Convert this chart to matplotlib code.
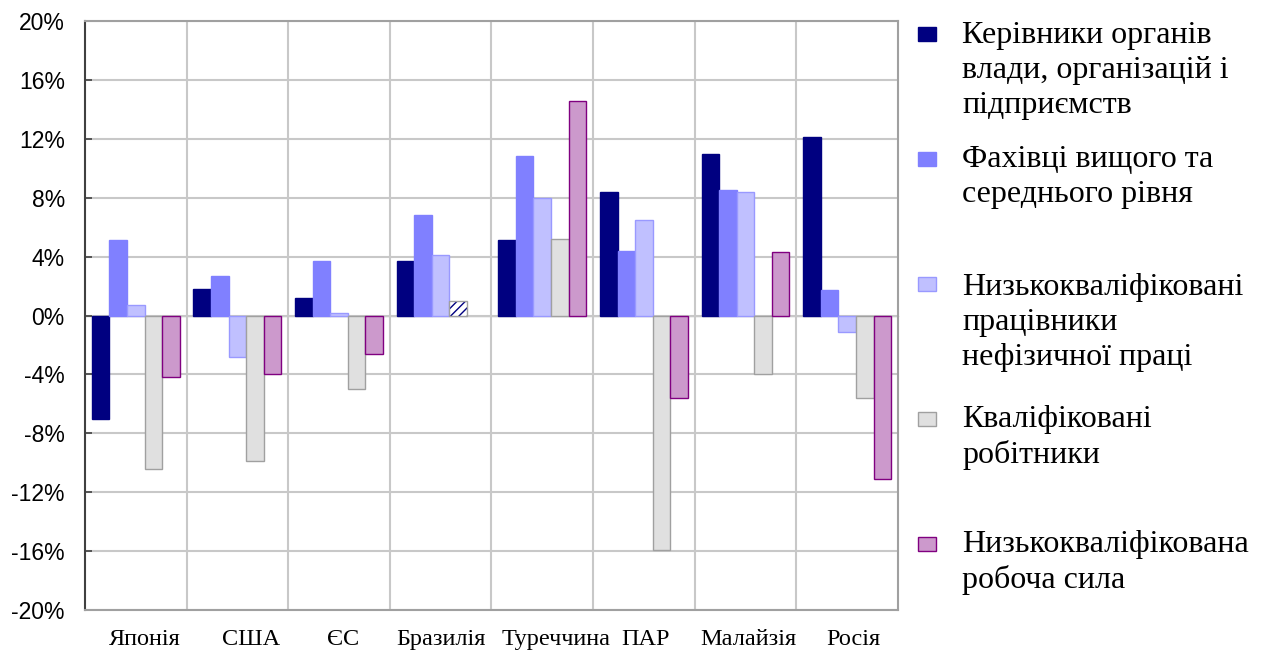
import matplotlib
matplotlib.use("Agg")
import matplotlib.pyplot as plt
import matplotlib.transforms as mtransforms
import numpy as np

countries = ["Японія", "США", "ЄС", "Бразилія", "Туреччина", "ПАР", "Малайзія", "Росія"]

series_names = [
    "Керівники органів\nвлади, організацій і\nпідприємств",
    "Фахівці вищого та\nсереднього рівня",
    "Низькокваліфіковані\nпрацівники\nнефізичної праці",
    "Кваліфіковані\nробітники",
    "Низькокваліфікована\nробоча сила",
]

managers = [-7.0, 1.8, 1.2, 3.7, 5.1, 8.4, 11.0, 12.1]
professionals = [5.1, 2.7, 3.7, 6.8, 10.8, 4.4, 8.5, 1.7]
clerks = [0.7, -2.8, 0.2, 4.1, 8.0, 6.5, 8.4, -1.1]
skilled = [-10.4, -9.9, -5.0, 1.0, 5.2, -15.9, -4.0, -5.6]
unskilled = [-4.2, -4.0, -2.6, np.nan, 14.6, -5.6, 4.3, -11.1]

# Brazil's skilled-workers bar is drawn hatched in the source
hatched = [(3, 3)]

faces = ["#000080", "#8080FF", "#C0C0FF", "#E0E0E0", "#CC99CC"]
edges = ["#000080", "#8080FF", "#9999FF", "#A0A0A0", "#800080"]

fig = plt.figure(figsize=(12.66, 6.52), dpi=100)
ax = fig.add_axes([0.0671, 0.0644, 0.6422, 0.9034])

x = np.arange(len(countries))
w = 0.173
data = [managers, professionals, clerks, skilled, unskilled]
bars = []
for i, vals in enumerate(data):
    b = ax.bar(x + (i - 2) * w, vals, w, color=faces[i], edgecolor=edges[i], linewidth=1.0, zorder=3)
    bars.append(b)

for s, c in hatched:
    bars[s][c].set_visible(False)
    ax.bar(x[c] + (s - 2) * w, data[s][c], w, color="white", edgecolor="#000080",
           hatch="////", linewidth=0, zorder=3)
    ax.bar(x[c] + (s - 2) * w, data[s][c], w, color="none", edgecolor="#A0A0A0",
           linewidth=1.0, zorder=4)

ax.set_xlim(-0.5, len(countries) - 0.5)
ax.set_ylim(-20, 20)
ax.set_yticks(np.arange(-20, 21, 4))
ax.set_yticklabels([f"{v}%" for v in range(-20, 21, 4)], family="Liberation Sans", fontsize=16.5)
ax.tick_params(axis="y", direction="in", length=5, width=1.2, color="#404040", pad=14.5)

ax.set_xticks(x)
ax.set_xticklabels(countries, family="Liberation Serif", fontsize=17.5)
ax.tick_params(axis="x", length=0, pad=14)
# the source labels sit a little right of the category centres
shift_px = [9, 14, 4, 0, 14, 2, 3, 6]
for lab, dx in zip(ax.get_xticklabels(), shift_px):
    lab.set_transform(lab.get_transform() + mtransforms.ScaledTranslation(dx / 100, 0, fig.dpi_scale_trans))
bounds = np.arange(0.5, len(countries) - 0.5, 1)
ax.set_xticks(bounds, minor=True)
ax.tick_params(axis="x", which="minor", length=0)

ax.grid(axis="y", which="major", color="#C8C8C8", linewidth=1.5, zorder=0)
ax.grid(axis="x", which="minor", color="#C8C8C8", linewidth=1.5, zorder=0)
ax.set_axisbelow(True)

for side in ["top", "right", "bottom"]:
    ax.spines[side].set_color("#A0A0A0")
    ax.spines[side].set_linewidth(1.5)
ax.spines["left"].set_color("#404040")
ax.spines["left"].set_linewidth(1.5)

# zero line with small ticks at category boundaries
sec = ax.secondary_xaxis(0.5)
sec.set_xticks(np.arange(-0.5, len(countries), 1))
sec.set_xticklabels([])
sec.tick_params(direction="out", length=5, width=1.2, color="#404040")
sec.spines["bottom"].set_color("black")
sec.spines["bottom"].set_linewidth(1.5)

# legend drawn by hand to keep the wide spacing of the original
first_base = [42, 167, 292, 427, 552]
last_base = [113, 202, 365, 463, 588]
for i, name in enumerate(series_names):
    yb = 1 - first_base[i] / 652
    fig.patches.append(plt.Rectangle((918 / 1266, yb + 1 / 652), 18 / 1266, 14 / 652,
                                     transform=fig.transFigure, facecolor=faces[i],
                                     edgecolor=edges[i], linewidth=1.0))
    fig.text(962 / 1266, 1 - last_base[i] / 652, name, family="Liberation Serif",
             fontsize=23, va="baseline", ha="left", linespacing=1.28, color="black")

fig.savefig("out.png", dpi=100, facecolor="white")
